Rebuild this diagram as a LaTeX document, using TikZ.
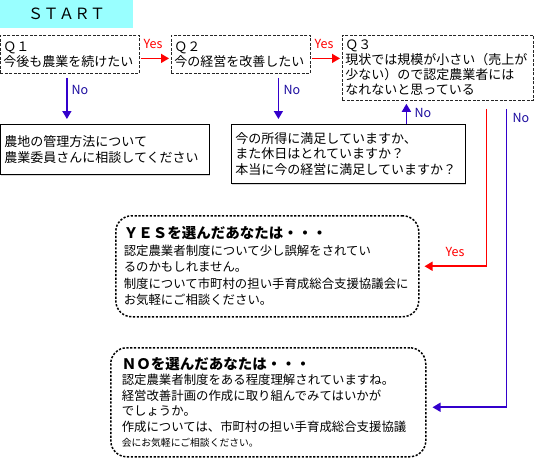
\documentclass[tikz,border=0pt]{standalone}
\usepackage{fontspec}
\setmainfont{Noto Sans CJK JP}
\usepackage{xcolor}
\usepackage{tikz}
\usetikzlibrary{arrows.meta,positioning,calc,shadows}
\definecolor{startcyan}{HTML}{99FFFF}
\definecolor{yesred}{HTML}{FF0000}
\definecolor{noblue}{HTML}{3300CC}
\definecolor{notext}{HTML}{1A0A9E}

\begin{document}
\begin{tikzpicture}[
  x=1pt, y=-1pt,
  startbox/.style={rectangle, fill=startcyan, anchor=north west, minimum width=133pt,
              minimum height=28pt, font=\fontsize{15.5}{15.5}\selectfont},
  qbox/.style={rectangle, draw=black!85, dash pattern=on 3pt off 1.5pt, line width=0.8pt,
              anchor=north west, align=left, inner xsep=3pt, inner ysep=2pt,
              font=\fontsize{13}{15}\selectfont},
  ansbox/.style={rectangle, draw, fill=white, line width=0.8pt, anchor=north west,
              align=left, inner xsep=4pt, inner ysep=2pt, font=\fontsize{13}{15.5}\selectfont,
              drop shadow={shadow xshift=1pt, shadow yshift=-1.5pt, fill=black!30}},
  resbox/.style={rectangle, rounded corners=16pt, draw, dash pattern=on 2.2pt off 1.6pt,
              line width=1.5pt, anchor=north west, align=left, inner ysep=3pt},
  yesarrow/.style={-{Triangle[length=8pt,width=9pt]}, yesred, line width=1.6pt},
  noarrow/.style={-{Triangle[length=8pt,width=9pt]}, noblue, line width=1.6pt},
  yeslabel/.style={text=yesred, font=\fontsize{12.5}{12.5}\selectfont, inner sep=0pt},
  nolabel/.style={text=notext, font=\fontsize{12.5}{12.5}\selectfont, inner sep=0pt}
]
\useasboundingbox (0,0) rectangle (534,458);

% Start
\node[startbox] (start) at (0,0) {ＳＴＡＲＴ};

% Questions
\node[qbox, text width=133pt, minimum height=38pt] (q1) at (0,35) {Ｑ１\\今後も農業を続けたい};
\node[qbox, text width=133pt, minimum height=38pt] (q2) at (171,35) {Ｑ２\\今の経営を改善したい};
\node[qbox, text width=185pt, minimum height=65pt] (q3) at (342,35) {
  Ｑ３\\現状では規模が小さい（売上が\\少ない）ので認定農業者には\\なれないと思っている};

% Answers
\node[ansbox, text width=201pt, minimum height=50pt] (farm) at (0,124) {
  農地の管理方法について\\農業委員さんに相談してください};
\node[ansbox, text width=226pt, minimum height=59pt] (check) at (231,124) {
  今の所得に満足していますか、\\また休日はとれていますか？\\本当に今の経営に満足していますか？};

% Results
\node[resbox, inner xsep=8pt, text width=287pt, minimum height=101pt,
      font=\fontsize{12.4}{16.5}\selectfont] (yesbox) at (115,215) {
  {\bfseries\fontsize{14.5}{17}\selectfont ＹＥＳを選んだあなたは・・・}\\
  認定農業者制度について少し誤解をされてい\\
  るのかもしれません。\\
  制度について市町村の担い手育成総合支援協議会に\\
  お気軽にご相談ください。};
\node[resbox, inner xsep=11pt, text width=293pt, minimum height=109pt,
      font=\fontsize{12.4}{15.5}\selectfont] (nobox) at (110,347) {
  {\bfseries\fontsize{14.5}{17}\selectfont ＮＯを選んだあなたは・・・}\\
  認定農業者制度をある程度理解されていますね。\\
  経営改善計画の作成に取り組んでみてはいかが\\
  でしょうか。\\
  作成については、市町村の担い手育成総合支援協議\\
  {\fontsize{9.8}{12}\selectfont 会にお気軽にご相談ください。}};

% Yes arrows
\draw[yesarrow] ($(q1.east)+(1,4)$) -- ($(q2.west)+(-2,4)$);
\node[yeslabel] (yes1) at (153,44) {Yes};
\draw[yesarrow] ($(q2.east)+(1,4)$) -- ($(q2.east -| q3.west)+(-2,4)$);
\node[yeslabel] (yes2) at (324,44) {Yes};
\draw[yesarrow] ($(q3.south)+(48.5,8)$) |- ($(yesbox.east)+(5,0)$);
\node[yeslabel] (yes3) at (455,252) {Yes};

% No arrows
\draw[noarrow] ($(q1.south)+(-3,4)$) -- ($(q1.south |- farm.north)+(-3,-5)$);
\node[nolabel] (no1) at (80,90) {No};
\draw[noarrow] ($(q2.south)+(37.5,4)$) -- ($(q2.south |- check.north)+(37.5,-5)$);
\node[nolabel] (no2) at (292,90) {No};
\draw[noarrow] ($(check.north -| q3.south)+(-31.5,0)$) -- ($(q3.south)+(-31.5,3)$);
\node[nolabel] (no3) at (423,113) {No};
\draw[noarrow] ($(q3.south)+(68.5,8)$) |- ($(nobox.east)+(6,5)$);
\node[nolabel] (no4) at (521,118) {No};

\end{tikzpicture}
\end{document}
